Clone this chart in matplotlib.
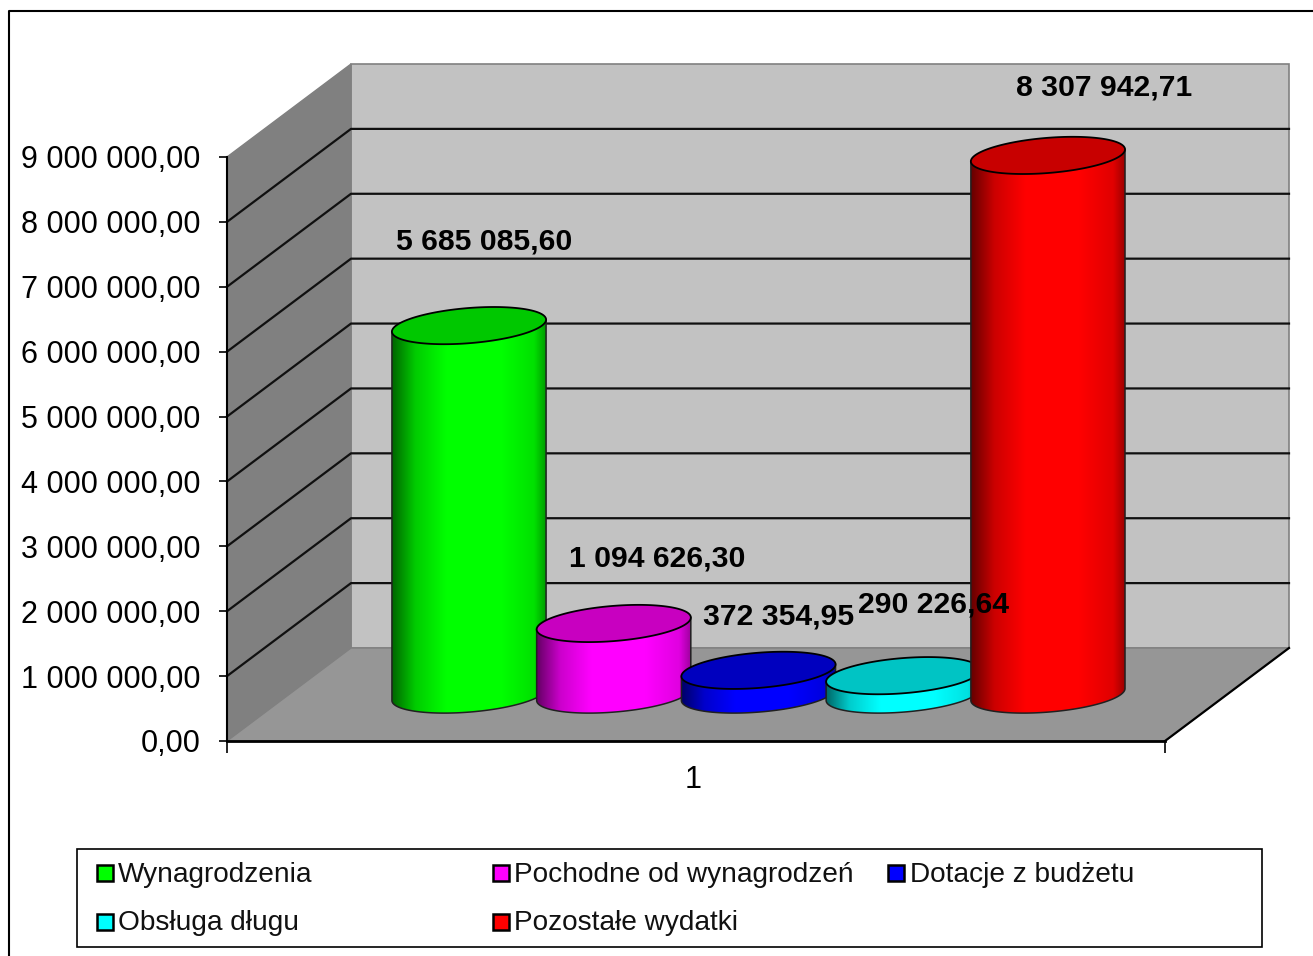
import numpy as np
from matplotlib import pyplot as plt
from matplotlib.colors import LinearSegmentedColormap, to_rgb
from matplotlib.patches import Polygon, Rectangle

plt.rcParams['font.family'] = ['Liberation Sans', 'DejaVu Sans']

# chart data
series_names = ['Wynagrodzenia', 'Pochodne od wynagrodzeń', 'Dotacje z budżetu',
                'Obsługa długu', 'Pozostałe wydatki']
series_values = [5685085.60, 1094626.30, 372354.95, 290226.64, 8307942.71]
value_labels = ['5 685 085,60', '1 094 626,30', '372 354,95', '290 226,64', '8 307 942,71']
tick_values = [0, 1e6, 2e6, 3e6, 4e6, 5e6, 6e6, 7e6, 8e6, 9e6]
tick_labels = ['0,00', '1 000 000,00', '2 000 000,00', '3 000 000,00', '4 000 000,00',
               '5 000 000,00', '6 000 000,00', '7 000 000,00', '8 000 000,00', '9 000 000,00']
category_label = '1'

# styles
side_colors = ['#00ff00', '#ff00ff', '#0000ff', '#00ffff', '#ff0000']
cap_colors = ['#00c800', '#c800c0', '#0000bf', '#00c4c4', '#c80000']
# label offset from the top of each cylinder, in pixels (the labels were moved by hand in the original)
label_offsets = [(15, 84), (43, 65), (20, 54), (30, 71), (56, 68)]

W, H = 1313, 956
PLOT_LEFT, PLOT_RIGHT, PLOT_BOTTOM, PLOT_TOP = 227, 1165, 741, 157

# the 3d box: how far the back wall is shifted, in data units
DEPTH_X = 124 / (PLOT_RIGHT - PLOT_LEFT)
DEPTH_Y = 93 / (PLOT_BOTTOM - PLOT_TOP) * 9e6
FIRST_BAR = 0.1919
BAR_STEP = 0.1543
RADIUS = 0.0778
DEPTH_RADIUS = 0.2  # radius along the depth direction, as share of the box depth


def ellipse(cx, value, t):
    # circle lying on the floor, seen through the oblique projection
    x = cx + RADIUS * np.cos(t) + DEPTH_RADIUS * DEPTH_X * np.sin(t) + 0.5 * DEPTH_X
    y = value + DEPTH_RADIUS * DEPTH_Y * np.sin(t) + 0.5 * DEPTH_Y
    return x, y


def draw_cylinder(ax, cx, value, side, cap, z):
    t0 = np.arctan2(DEPTH_RADIUS * DEPTH_X, RADIUS)
    t = np.linspace(t0 + np.pi, t0 + 2 * np.pi, 100)
    bx, by = ellipse(cx, 0, t)
    tx, ty = ellipse(cx, value, t)
    outline = np.column_stack([np.r_[bx, tx[::-1]], np.r_[by, ty[::-1]]])

    # horizontal shading of the side, the left edge is darker than the right
    rgb = np.array(to_rgb(side))
    cmap = LinearSegmentedColormap.from_list('side', [(0, rgb * 0.4), (0.15, rgb * 0.8), (0.35, rgb),
                                                      (0.7, rgb), (0.92, rgb * 0.88), (1, rgb * 0.6)])
    clip = Polygon(outline, closed=True, facecolor='none', edgecolor='none', transform=ax.transData, zorder=z)
    ax.add_patch(clip)
    img = ax.imshow(np.linspace(0, 1, 256).reshape(1, -1), cmap=cmap, aspect='auto',
                    extent=(bx[0], bx[-1], by.min(), ty.max()), zorder=z, interpolation='bilinear')
    img.set_clip_path(clip)
    # the top of the tall bar pokes out above the axes box
    img.set_clip_box(ax.figure.bbox)

    # outline of the body
    ax.plot(np.r_[tx[0], bx, tx[-1]], np.r_[ty[0], by, ty[-1]], color='#202020', lw=1.1, zorder=z + 0.1,
            clip_on=False)

    # top of the cylinder
    all_t = np.linspace(0, 2 * np.pi, 200)
    cx_top, cy_top = ellipse(cx, value, all_t)
    ax.fill(cx_top, cy_top, facecolor=cap, edgecolor='black', lw=1.3, zorder=z + 0.2, clip_on=False)


fig = plt.figure(figsize=(W / 100, H / 100), dpi=100)

ax = fig.add_axes([PLOT_LEFT / W, 1 - PLOT_BOTTOM / H, (PLOT_RIGHT - PLOT_LEFT) / W, (PLOT_BOTTOM - PLOT_TOP) / H])
ax.patch.set_visible(False)

# walls and floor
top = tick_values[-1]
ax.fill([DEPTH_X, 1 + DEPTH_X, 1 + DEPTH_X, DEPTH_X], [DEPTH_Y, DEPTH_Y, top + DEPTH_Y, top + DEPTH_Y],
        facecolor='#c2c2c2', edgecolor='#808080', lw=1.2, zorder=1, clip_on=False)
ax.fill([0, DEPTH_X, DEPTH_X, 0], [0, DEPTH_Y, top + DEPTH_Y, top],
        facecolor='#808080', edgecolor='#808080', lw=1, zorder=1, clip_on=False)
ax.fill([0, 1, 1 + DEPTH_X, DEPTH_X], [0, 0, DEPTH_Y, DEPTH_Y],
        facecolor='#969696', edgecolor='#808080', lw=1, zorder=1, clip_on=False)
ax.plot([1, 1 + DEPTH_X], [0, DEPTH_Y], color='black', lw=1.6, zorder=1.5, clip_on=False)

# gridlines run along the left wall and the back wall, the top one stays grey
for v in tick_values[1:-1]:
    ax.plot([0, DEPTH_X, 1 + DEPTH_X], [v, v + DEPTH_Y, v + DEPTH_Y], color='#101010', lw=1.6, zorder=1.5,
            clip_on=False)

for i, value in enumerate(series_values):
    cx = FIRST_BAR + i * BAR_STEP
    draw_cylinder(ax, cx, value, side_colors[i], cap_colors[i], 2 + i)
    ax.annotate(value_labels[i], xy=(cx + 0.5 * DEPTH_X, value + 0.5 * DEPTH_Y),
                xytext=(label_offsets[i][0] * 0.72, label_offsets[i][1] * 0.72), textcoords='offset points',
                ha='center', va='center', fontsize=21.7, fontweight='bold', color='black', zorder=10,
                annotation_clip=False)

ax.set_xlim(0, 1)
ax.set_ylim(0, top)
ax.spines['top'].set_visible(False)
ax.spines['right'].set_visible(False)
ax.spines['left'].set_linewidth(1.5)
ax.spines['bottom'].set_linewidth(2)
ax.set_yticks(tick_values, tick_labels, fontsize=22)
ax.tick_params(axis='y', length=5.8, width=1.2, pad=13.5)
ax.set_xticks([0, 1], ['', ''])
ax.tick_params(axis='x', length=8.5, width=1.2)
ax.set_xticks([0.497], [category_label], minor=True, fontsize=22)
ax.tick_params(axis='x', which='minor', length=0, pad=17)

# overlay in pixel coordinates for the outer border and the legend
over = fig.add_axes([0, 0, 1, 1], zorder=20)
over.set_xlim(0, W)
over.set_ylim(H, 0)
over.axis('off')
over.plot([9, 9, W], [H, 11, 11], color='black', lw=1.5)

over.add_patch(Rectangle((77, 849), 1185, 98, facecolor='white', edgecolor='black', lw=1.2))
legend_cols = [97, 493, 888]
legend_rows = [873, 922]
for i, name in enumerate(series_names):
    lx = legend_cols[i % 3]
    ly = legend_rows[i // 3]
    over.add_patch(Rectangle((lx, ly - 8), 16, 16, facecolor=side_colors[i], edgecolor='black', lw=1.8))
    over.text(lx + 21 + (i % 3 == 2), ly + 1.5, name, fontsize=20.2, ha='left', va='center', color='#111111')

fig.savefig('out.png', dpi=100, facecolor='white')
